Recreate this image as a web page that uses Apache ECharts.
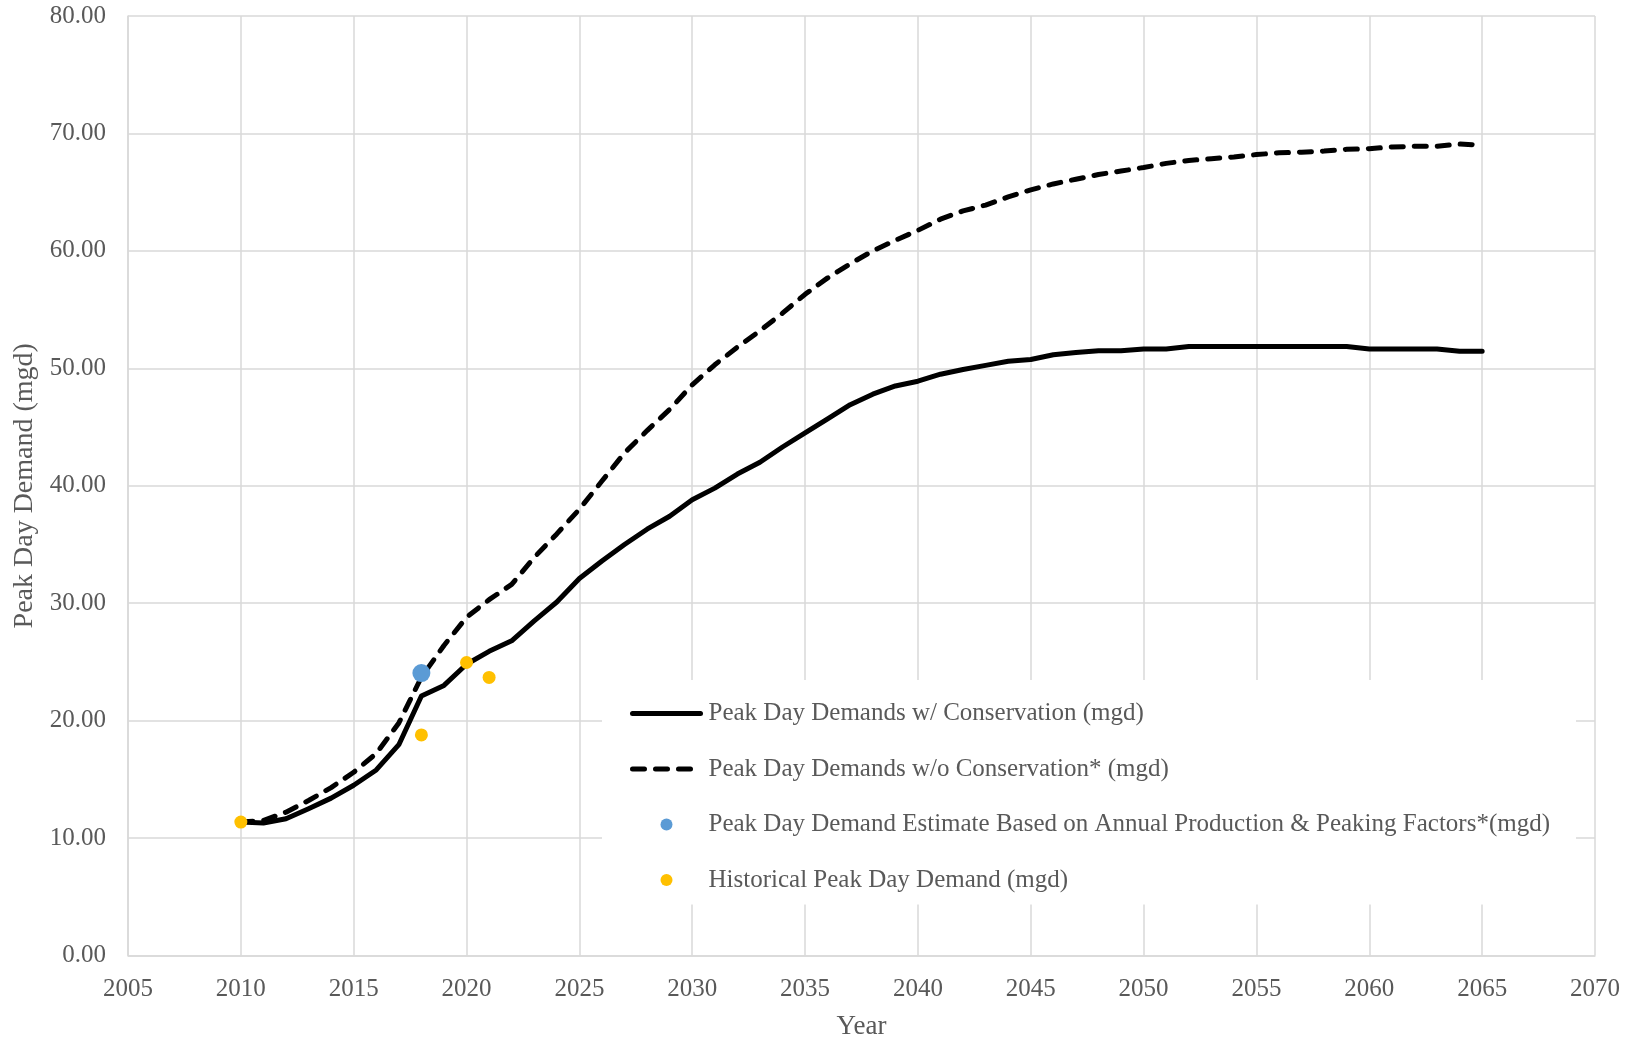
<!DOCTYPE html>
<html>
<head>
<meta charset="utf-8">
<script src="https://cdn.jsdelivr.net/npm/echarts@6/dist/echarts.min.js"></script>
<style>
  html, body { margin: 0; padding: 0; background: #ffffff; }
  #chart { width: 1639px; height: 1039px; }
</style>
</head>
<body>
<div id="chart"></div>
<script>
// Projection years
const years = [
  2010, 2011, 2012, 2013, 2014, 2015, 2016, 2017, 2018, 2019,
  2020, 2021, 2022, 2023, 2024, 2025, 2026, 2027, 2028, 2029,
  2030, 2031, 2032, 2033, 2034, 2035, 2036, 2037, 2038, 2039,
  2040, 2041, 2042, 2043, 2044, 2045, 2046, 2047, 2048, 2049,
  2050, 2051, 2052, 2053, 2054, 2055, 2056, 2057, 2058, 2059,
  2060, 2061, 2062, 2063, 2064, 2065
];

// Peak day demands with conservation (mgd)
const withConservation = [
  11.36, 11.28, 11.65, 12.50, 13.40, 14.50, 15.80, 17.95, 22.10, 23.00,
  24.80, 25.90, 26.80, 28.50, 30.10, 32.10, 33.60, 35.00, 36.30, 37.40,
  38.80, 39.80, 41.00, 42.00, 43.30, 44.50, 45.70, 46.90, 47.80, 48.50,
  48.90, 49.50, 49.90, 50.25, 50.60, 50.75, 51.15, 51.35, 51.50, 51.50,
  51.65, 51.65, 51.85, 51.85, 51.85, 51.85, 51.85, 51.85, 51.85, 51.85,
  51.65, 51.65, 51.65, 51.65, 51.45, 51.45
];

// Peak day demands without conservation (mgd)
const withoutConservation = [
  11.36, 11.50, 12.20, 13.20, 14.30, 15.60, 17.20, 19.80, 23.70, 26.40,
  28.80, 30.30, 31.60, 33.90, 35.90, 38.00, 40.40, 42.80, 44.70, 46.50,
  48.60, 50.30, 51.80, 53.20, 54.70, 56.30, 57.70, 58.90, 60.00, 60.90,
  61.75, 62.70, 63.40, 63.90, 64.60, 65.20, 65.70, 66.10, 66.50, 66.80,
  67.10, 67.45, 67.70, 67.85, 68.00, 68.20, 68.35, 68.40, 68.50, 68.65,
  68.70, 68.85, 68.90, 68.90, 69.10, 69.00
];

// Estimate from annual production and peaking factors
const estimateYears = [2018];
const estimateValues = [24.05];

// Recorded historical peak days
const historicalYears = [2010, 2018, 2020, 2021];
const historicalValues = [11.36, 18.78, 24.95, 23.68];

// Axis ranges
const xMin = 2005, xMax = 2070, xStep = 5;
const yMin = 0, yMax = 80, yStep = 10;

const seriesNames = [
  'Peak Day Demands w/ Conservation (mgd)',
  'Peak Day Demands w/o Conservation* (mgd)',
  'Peak Day Demand Estimate Based on Annual Production & Peaking Factors*(mgd)',
  'Historical Peak Day Demand (mgd)'
];

const pairs = (xs, ys) => xs.map((x, i) => [x, ys[i]]);

const FONT = 'Liberation Serif';
const TEXT = '#595959';
const GRID = '#d9d9d9';

// Legend entries for the two lines: plain stroke, no marker dot
const hiddenMarker = { color: 'rgba(0,0,0,0)', borderWidth: 0, opacity: 0 };

const chart = echarts.init(document.getElementById('chart'), null, { renderer: 'canvas' });

chart.setOption({
  backgroundColor: '#ffffff',
  animation: false,
  grid: {
    left: 128, right: 44, top: 16, bottom: 83.5,
    containLabel: false,
    outerBoundsMode: 'none'
  },
  xAxis: {
    type: 'value',
    min: xMin, max: xMax, interval: xStep,
    name: 'Year',
    nameLocation: 'middle',
    nameGap: 58,
    nameTextStyle: { fontFamily: FONT, fontSize: 27, color: TEXT },
    axisLine: { show: true, lineStyle: { color: GRID, width: 1.5 } },
    axisTick: { show: false },
    axisLabel: { fontFamily: FONT, fontSize: 25, color: TEXT, margin: 21, formatter: v => String(v) },
    splitLine: { show: true, lineStyle: { color: GRID, width: 1.5 } }
  },
  yAxis: {
    type: 'value',
    min: yMin, max: yMax, interval: yStep,
    name: 'Peak Day Demand (mgd)',
    nameLocation: 'middle',
    nameGap: 84,
    nameTextStyle: { fontFamily: FONT, fontSize: 28, color: TEXT },
    axisLine: { show: true, lineStyle: { color: GRID, width: 1.5 } },
    axisTick: { show: false },
    axisLabel: {
      fontFamily: FONT, fontSize: 25, color: TEXT, margin: 22,
      formatter: v => v.toFixed(2)
    },
    splitLine: { show: true, lineStyle: { color: GRID, width: 1.5 } }
  },
  legend: {
    orient: 'vertical',
    left: 602,
    top: 680,
    backgroundColor: '#ffffff',
    padding: [21, 26, 12, 28],
    itemGap: 30.5,
    itemWidth: 68,
    itemHeight: 12,
    selectedMode: false,
    textStyle: { fontFamily: FONT, fontSize: 25, color: TEXT, lineHeight: 25, padding: [0, 0, 0, 3] },
    data: [
      { name: seriesNames[0], lineStyle: { width: 5 }, itemStyle: hiddenMarker },
      { name: seriesNames[1], lineStyle: { width: 5 }, itemStyle: hiddenMarker },
      { name: seriesNames[2] },
      { name: seriesNames[3] }
    ]
  },
  series: [
    {
      name: seriesNames[0],
      type: 'line',
      data: pairs(years, withConservation),
      showSymbol: false,
      symbol: 'none',
      lineStyle: { color: '#000000', width: 5, join: 'round', cap: 'round' },
      itemStyle: { color: '#000000' },
      z: 2
    },
    {
      name: seriesNames[1],
      type: 'line',
      data: pairs(years, withoutConservation),
      showSymbol: false,
      symbol: 'none',
      lineStyle: { color: '#000000', width: 5, type: [12, 11], cap: 'round', join: 'round' },
      itemStyle: { color: '#000000' },
      z: 2
    },
    {
      name: seriesNames[2],
      type: 'scatter',
      data: pairs(estimateYears, estimateValues),
      symbol: 'circle',
      symbolSize: 18,
      itemStyle: { color: '#5B9BD5', opacity: 1 },
      z: 3
    },
    {
      name: seriesNames[3],
      type: 'scatter',
      data: pairs(historicalYears, historicalValues),
      symbol: 'circle',
      symbolSize: 13,
      itemStyle: { color: '#FFC000', opacity: 1 },
      z: 3
    }
  ]
});
</script>
</body>
</html>
